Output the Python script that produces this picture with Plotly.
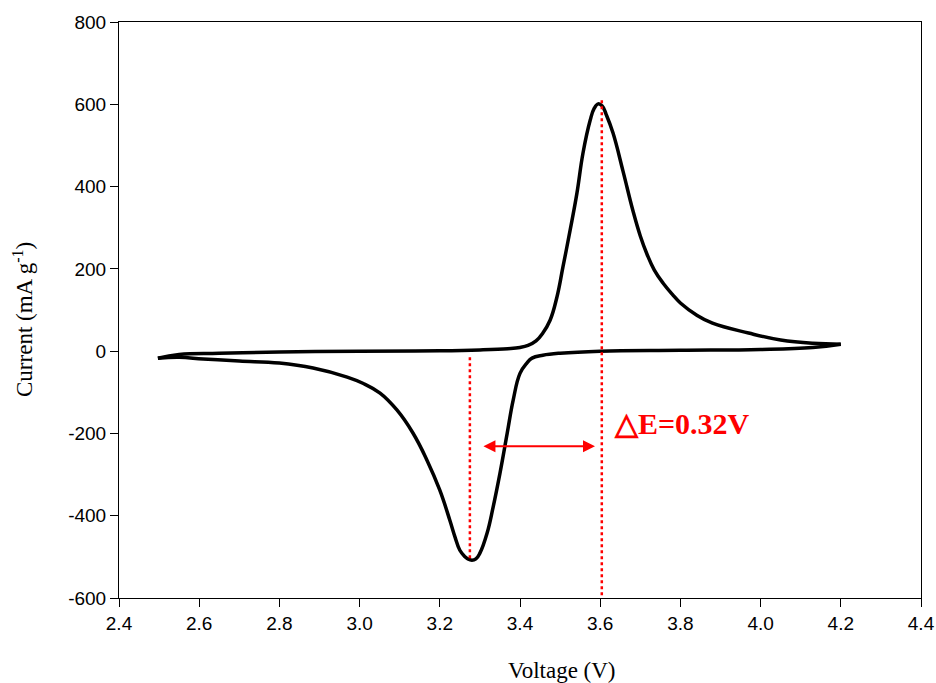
import plotly.graph_objects as go

# Anodic (forward) scan, 2.5 V -> 4.2 V
fwd_v = [2.497, 2.55, 2.65, 2.80, 3.00, 3.20, 3.30, 3.37, 3.40, 3.42, 3.44, 3.457, 3.475,
         3.492, 3.507, 3.525, 3.542, 3.557, 3.575, 3.585, 3.595, 3.605, 3.615, 3.632,
         3.657, 3.682, 3.70, 3.717, 3.735, 3.757, 3.78, 3.80, 3.84, 3.88, 3.97, 4.05, 4.13, 4.20]
fwd_i = [-17, -8, -5, -2, 0, 1, 3, 6, 9, 14, 25, 44, 75,
         131, 204, 294, 384, 481, 561, 590, 601, 596, 575, 530,
         437, 340, 280, 235, 197, 165, 138, 117, 88, 68, 44, 27, 19, 17]

# Cathodic (reverse) scan, 4.2 V -> 2.5 V
rev_v = [4.20, 4.13, 4.00, 3.80, 3.60, 3.50, 3.457, 3.43, 3.417, 3.40, 3.383, 3.368,
         3.35, 3.333, 3.318, 3.30, 3.29, 3.28, 3.27, 3.262, 3.25, 3.238, 3.225, 3.20, 3.168,
         3.133, 3.093, 3.051, 3.008, 2.969, 2.884, 2.80, 2.70, 2.61, 2.55, 2.497]
rev_i = [17, 9, 4, 2, 0, -5, -10, -17, -29, -54, -119, -200,
         -297, -379, -442, -491, -505, -508, -505, -499, -484, -452, -411, -338, -265,
         -199, -143, -102, -78, -63, -41, -29, -24, -19, -15, -17]

# Peak marker lines and separation arrow
cath_peak_v = 3.275
cath_line_i = [-15, -508]
anod_peak_v = 3.604
anod_line_i = [610, -600]
arrow_i = -231
arrow_v = [3.305, 3.587]
label_text = "△E=0.32V"

x_ticks = [2.4, 2.6, 2.8, 3.0, 3.2, 3.4, 3.6, 3.8, 4.0, 4.2, 4.4]
y_ticks = [-600, -400, -200, 0, 200, 400, 600, 800]

fig = go.Figure()
for xs, ys in ((fwd_v, fwd_i), (rev_v, rev_i)):
    fig.add_trace(go.Scatter(x=xs, y=ys, mode="lines",
                             line=dict(color="black", width=3.5, shape="spline", smoothing=1.2),
                             showlegend=False))
fig.add_trace(go.Scatter(x=[cath_peak_v, cath_peak_v], y=cath_line_i, mode="lines",
                         line=dict(color="#ff0000", width=2.5, dash="dot"), showlegend=False))
fig.add_trace(go.Scatter(x=[anod_peak_v, anod_peak_v], y=anod_line_i, mode="lines",
                         line=dict(color="#ff0000", width=2.5, dash="dot"), showlegend=False))

fig.add_annotation(x=arrow_v[1], y=arrow_i, ax=arrow_v[0], ay=arrow_i,
                   xref="x", yref="y", axref="x", ayref="y", text="",
                   showarrow=True, arrowhead=2, startarrowhead=2, arrowside="end+start",
                   arrowsize=1.2, startarrowsize=1.2, arrowwidth=2, arrowcolor="#ff0000",
                   standoff=0, startstandoff=0)
fig.add_annotation(x=3.630, y=-175, xref="x", yref="y", text="<b>" + label_text + "</b>",
                   showarrow=False, xanchor="left", yanchor="middle",
                   font=dict(family="Liberation Serif, Times New Roman, serif", size=30, color="#ff0000"))

# Axis titles
fig.add_annotation(x=0.552, y=-0.125, xref="paper", yref="paper", text="Voltage (V)",
                   showarrow=False, xanchor="center", yanchor="middle",
                   font=dict(family="Liberation Serif, Times New Roman, serif", size=23, color="black"))
fig.add_annotation(x=-0.12, y=0.484, xref="paper", yref="paper",
                   text="Current (mA g<sup>-1</sup>)", textangle=-90,
                   showarrow=False, xanchor="center", yanchor="middle",
                   font=dict(family="Liberation Serif, Times New Roman, serif", size=23, color="black"))

axis_common = dict(showline=True, linecolor="black", linewidth=1, mirror=True,
                   ticks="outside", ticklen=8, tickcolor="black", tickwidth=1,
                   showgrid=False, zeroline=False, automargin=False,
                   tickfont=dict(family="Liberation Sans, Arial, sans-serif", size=19, color="black"))

fig.update_xaxes(range=[2.4, 4.4], tickvals=x_ticks, ticktext=[f"{v:.1f}" for v in x_ticks],
                 **axis_common)
fig.update_yaxes(range=[-600, 800], tickvals=y_ticks, ticktext=[str(v) for v in y_ticks],
                 **axis_common)

fig.update_layout(width=936, height=683, plot_bgcolor="white", paper_bgcolor="white",
                  margin=dict(l=119, r=15, t=22, b=85), showlegend=False)

fig.write_html("out.html", config={"displayModeBar": False},
               post_script="document.body.style.margin='0';document.body.style.overflow='hidden';")
